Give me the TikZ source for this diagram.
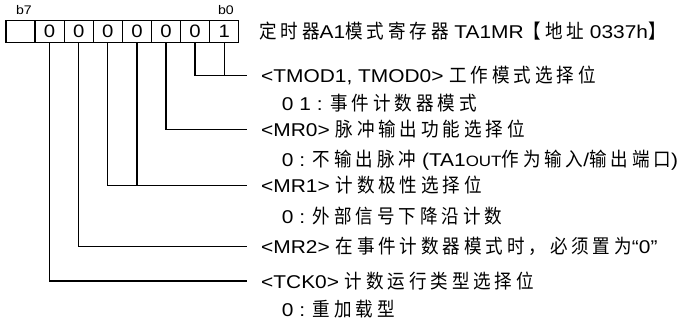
\documentclass[tikz,border=0pt]{standalone}
\usepackage{fontspec}
\setmainfont{Liberation Sans}[FakeStretch=1.13]
\newfontfamily\zhfont{Noto Sans CJK SC}[FakeStretch=0.9,LetterSpace=20]
\newcommand\zh[1]{{\zhfont\fontsize{19.5}{22}\selectfont #1}}
\newcommand\outsc{{\fontsize{15}{16}\selectfont OUT}}
\begin{document}
\begin{tikzpicture}[x=1pt,y=-1pt,
  lbl/.style={anchor=base west, inner sep=0pt, font=\fontsize{18.5}{22}\selectfont},
  bitcell/.style={draw, line width=1.3pt, minimum width=29.09pt, minimum height=22pt, inner sep=0pt, font=\fontsize{18}{22}\selectfont},
  bitname/.style={anchor=base, inner sep=0pt, font=\fontsize{12.5}{14}\selectfont},
  wire/.style={line width=1.3pt}]
\useasboundingbox (0,0) rectangle (697,321);
% register cells
\foreach \i/\v in {0/{},1/0,2/0,3/0,4/0,5/0,6/0,7/1}
  \node[bitcell] (c\i) at ({20.55+29.09*\i},31.7) {\v};
\node[bitname] (b7) at (24,15) {b7};
\node[bitname] (b0) at (226,15) {b0};
% line end points
\coordinate (e1) at (247,75.7);
\coordinate (e2) at (247,129.3);
\coordinate (e3) at (247,185.7);
\coordinate (e4) at (247,246.7);
\coordinate (e5) at (247,281);
% connectors
\draw[wire] (c6.south) |- (e1);
\draw[wire] (c7.south) -- (c7.south |- e1);
\draw[wire] (c5.south) |- (e2);
\draw[wire] (c3.south) |- (e3);
\draw[wire] (c4.south) -- (c4.south |- e3);
\draw[wire] (c2.south) |- (e4);
\draw[wire] (c1.south) |- (e5);
% texts
\node[lbl] (title) at (259,38.5) {\zh{定时器}A1\zh{模式寄存器} TA1MR\zh{【地址} 0337h\zh{】}};
\node[lbl] (t1) at (261,82.3) {<TMOD1, TMOD0> \zh{工作模式选择位}};
\node[lbl] (s1) at (281.7,110.7) {0 1 : \zh{事件计数器模式}};
\node[lbl] (t2) at (261,136.5) {<MR0> \zh{脉冲输出功能选择位}};
\node[lbl] (s2) at (281.7,166) {0 : \zh{不输出脉冲} (TA1\outsc\zh{作为输入}/\zh{输出端口})};
\node[lbl] (t3) at (261,192) {<MR1> \zh{计数极性选择位}};
\node[lbl] (s3) at (281.7,223) {0 : \zh{外部信号下降沿计数}};
\node[lbl] (t4) at (261,253.3) {<MR2> \zh{在事件计数器模式时，必须置为}“0”};
\node[lbl] (t5) at (261,288.3) {<TCK0> \zh{计数运行类型选择位}};
\node[lbl] (s5) at (281.7,316.7) {0 : \zh{重加载型}};
\end{tikzpicture}
\end{document}
